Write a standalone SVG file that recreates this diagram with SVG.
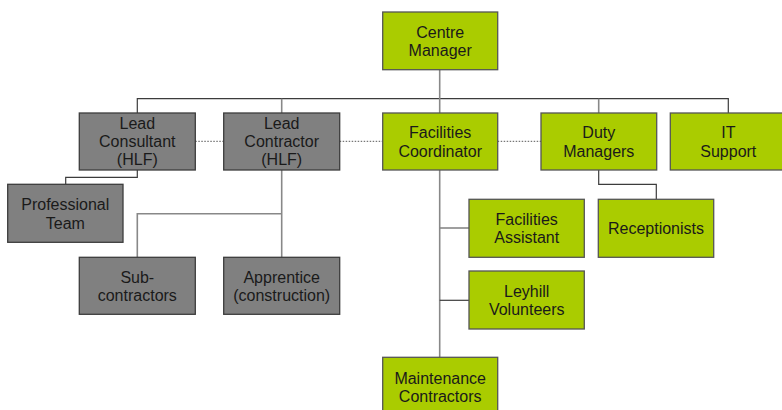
<svg xmlns="http://www.w3.org/2000/svg" width="782" height="410" viewBox="0 0 782 410">
  <style>
    .g rect { fill: #aacc00; stroke: #555555; stroke-width: 1.3; }
    .d rect { fill: #808080; stroke: #3c3c3c; stroke-width: 1.3; }
    text { font-family: "Liberation Sans", Arial, sans-serif; font-size: 16px; fill: #1a1a1a; text-anchor: middle; }
    .ln { fill: none; stroke: #3c3c3c; stroke-width: 1.2; }
    .lt { fill: none; stroke: #888888; stroke-width: 1.6; }
    .dot { fill: none; stroke: #555555; stroke-width: 1; stroke-dasharray: 1.5 1.5; }
  </style>

  <!-- connectors -->
  <g id="connectors">
    <path class="ln" d="M137.3 113 V98.7 H728.3 V113"/>
    <path class="lt" d="M439.7 69.7 V113"/>
    <path class="lt" d="M281.7 98.7 V113"/>
    <path class="lt" d="M598.7 98.7 V113"/>
    <path class="dot" d="M195.3 141.3 H223.7 M339.7 141.3 H382.7 M497.7 141.3 H541"/>
    <path class="ln" d="M137.3 170 V177.3 H65.7 V184.3"/>
    <path class="lt" d="M281.7 170 V257.3"/>
    <path class="lt" d="M281.7 213.7 H137.3 V257.3"/>
    <path class="lt" d="M439.7 170 V357.3"/>
    <path class="lt" d="M439.7 228 H469"/>
    <path class="ln" d="M439.7 300.3 H469"/>
    <path class="ln" d="M598.7 170 V184.3 H656.3 V199.3"/>
  </g>

  <g id="centre-manager" class="g">
    <rect x="382.7" y="12" width="115" height="57.7"/>
    <text x="440.2" y="37.5">Centre</text>
    <text x="440.2" y="56">Manager</text>
  </g>

  <g id="lead-consultant" class="d">
    <rect x="79.3" y="113" width="116" height="57"/>
    <text x="137.3" y="129.3">Lead</text>
    <text x="137.3" y="147.3">Consultant</text>
    <text x="137.3" y="165.3">(HLF)</text>
  </g>

  <g id="lead-contractor" class="d">
    <rect x="223.7" y="113" width="116" height="57"/>
    <text x="281.7" y="129.3">Lead</text>
    <text x="281.7" y="147.3">Contractor</text>
    <text x="281.7" y="165.3">(HLF)</text>
  </g>

  <g id="facilities-coordinator" class="g">
    <rect x="382.7" y="113" width="115" height="57"/>
    <text x="440.2" y="138">Facilities</text>
    <text x="440.2" y="156.5">Coordinator</text>
  </g>

  <g id="duty-managers" class="g">
    <rect x="541" y="113" width="115.7" height="57"/>
    <text x="598.8" y="138">Duty</text>
    <text x="598.8" y="156.5">Managers</text>
  </g>

  <g id="it-support" class="g">
    <rect x="670.3" y="113" width="116" height="57"/>
    <text x="728.3" y="138">IT</text>
    <text x="728.3" y="156.5">Support</text>
  </g>

  <g id="professional-team" class="d">
    <rect x="7.7" y="184.3" width="115.3" height="58"/>
    <text x="65.3" y="210">Professional</text>
    <text x="65.3" y="228.5">Team</text>
  </g>

  <g id="sub-contractors" class="d">
    <rect x="79.3" y="257.3" width="116" height="57"/>
    <text x="137.3" y="282.5">Sub-</text>
    <text x="137.3" y="301">contractors</text>
  </g>

  <g id="apprentice" class="d">
    <rect x="223.7" y="257.3" width="116" height="57"/>
    <text x="281.7" y="282.5">Apprentice</text>
    <text x="281.7" y="301">(construction)</text>
  </g>

  <g id="facilities-assistant" class="g">
    <rect x="469" y="199.3" width="115.3" height="58"/>
    <text x="526.7" y="224.8">Facilities</text>
    <text x="526.7" y="243.3">Assistant</text>
  </g>

  <g id="receptionists" class="g">
    <rect x="598.3" y="199.3" width="115.4" height="58"/>
    <text x="656" y="234">Receptionists</text>
  </g>

  <g id="leyhill-volunteers" class="g">
    <rect x="469" y="271" width="115.3" height="58"/>
    <text x="526.7" y="296.5">Leyhill</text>
    <text x="526.7" y="315">Volunteers</text>
  </g>

  <g id="maintenance-contractors" class="g">
    <rect x="382.7" y="357.3" width="115" height="57.5"/>
    <text x="440.2" y="384">Maintenance</text>
    <text x="440.2" y="402">Contractors</text>
  </g>
</svg>
